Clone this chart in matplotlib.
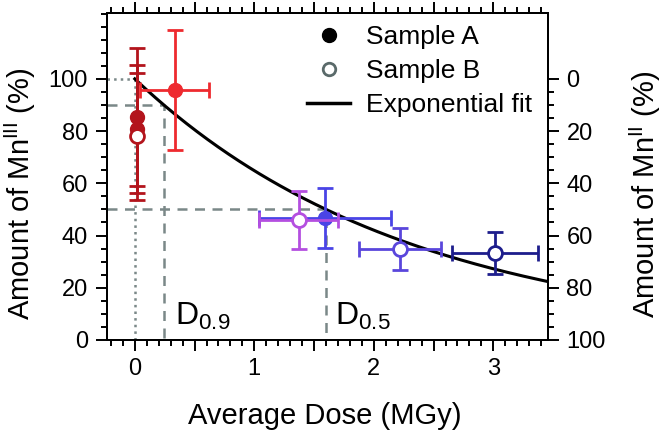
import numpy as np
import matplotlib
matplotlib.use('Agg')
import matplotlib.pyplot as plt
from matplotlib.lines import Line2D
from matplotlib.ticker import MultipleLocator, FuncFormatter

plt.rcParams['font.family'] = ['Liberation Sans', 'DejaVu Sans']
plt.rcParams['mathtext.fontset'] = 'custom'
plt.rcParams['mathtext.rm'] = 'Liberation Sans'
plt.rcParams['mathtext.it'] = 'Liberation Sans:italic'

# sample A (filled symbols)
dose_a = [0.02, 0.02, 0.335, 1.59]
dose_err_a = [0.0, 0.0, 0.29, 0.55]
mn3_a = [85.5, 80.8, 95.9, 46.8]
mn3_err_a = [26.5, 24.5, 23.0, 11.4]
col_a = ['#b3141c', '#b3141c', '#ee2a2f', '#4a44e6']

# sample B (open symbols)
dose_b = [0.02, 1.37, 2.22, 3.01]
dose_err_b = [0.0, 0.33, 0.345, 0.36]
mn3_b = [78.0, 46.0, 34.9, 33.3]
mn3_err_b = [24.3, 11.0, 8.0, 8.0]
col_b = ['#b3141c', '#b44fe0', '#5a46dc', '#1d1d8c']

# exponential fit, D0.5 = 1.6 MGy
d05 = 1.6
k = np.log(2) / d05
d09 = np.log(1 / 0.9) / k

fig = plt.figure(figsize=(6.64, 4.32), dpi=100)
ax = fig.add_axes([0.1616, 0.213, 0.6642, 0.758])
xmin, xmax = -0.23, 3.46
ymax = 125.4
gray = '#7a8888'

# guide lines
ax.plot([xmin, 0], [100, 100], ':', color=gray, lw=1.8, zorder=1)
ax.plot([0, 0], [0, 100], ':', color=gray, lw=1.8, zorder=1)
ax.plot([xmin, d09, d09], [90, 90, 0], '--', color=gray, lw=1.8, dashes=(4, 3), zorder=1)
ax.plot([xmin, d05, d05], [50, 50, 0], '--', color=gray, lw=1.8, dashes=(4, 3), zorder=1)

xf = np.linspace(0, xmax, 200)
ax.plot(xf, 100 * np.exp(-k * xf), color='black', lw=2.2, zorder=2)

for i in range(len(dose_a)):
    ax.errorbar(dose_a[i], mn3_a[i], xerr=dose_err_a[i], yerr=mn3_err_a[i], fmt='o',
                color=col_a[i], mfc=col_a[i], mec=col_a[i], ms=10,
                elinewidth=2, capsize=5.5, capthick=2, zorder=3)
for i in range(len(dose_b)):
    ax.errorbar(dose_b[i], mn3_b[i], xerr=dose_err_b[i], yerr=mn3_err_b[i], fmt='o',
                color=col_b[i], mfc='white', mec=col_b[i], mew=2, ms=10,
                elinewidth=2, capsize=5.5, capthick=2, zorder=4)

ax.text(0.34, 5.7, r'D$_{0.9}$', fontsize=23, zorder=5)
ax.text(1.675, 5.7, r'D$_{0.5}$', fontsize=23, zorder=5)

ax.set_xlim(xmin, xmax)
ax.set_ylim(0, ymax)
ax.xaxis.set_major_locator(MultipleLocator(0.5))
ax.xaxis.set_minor_locator(MultipleLocator(0.1))
ax.xaxis.set_major_formatter(FuncFormatter(lambda v, p: '%d' % v if abs(v - round(v)) < 1e-6 else ''))
ax.yaxis.set_minor_locator(MultipleLocator(5))
ax.set_yticks([0, 20, 40, 60, 80, 100])
ax.tick_params(which='both', direction='out', width=1.4, labelsize=17, top=True)
ax.tick_params(axis='y', pad=6)
ax.tick_params(axis='x', pad=5)
ax.tick_params(which='major', length=8)
ax.tick_params(which='minor', length=4.5)
for s in ax.spines.values():
    s.set_linewidth(1.4)

ax2 = ax.twinx()
ax2.set_ylim(100, 100 - ymax)
ax2.set_yticks([0, 20, 40, 60, 80, 100])
ax2.set_yticks(np.arange(0, 101, 5), minor=True)
ax2.tick_params(which='both', direction='out', width=1.4, labelsize=17, pad=5)
ax2.tick_params(which='major', length=8)
ax2.tick_params(which='minor', length=4.5)
for s in ax2.spines.values():
    s.set_linewidth(1.4)

ax.set_xlabel('Average Dose (MGy)', fontsize=21, va='center')
ax.set_ylabel(r'Amount of Mn$^{\mathrm{III}}$ (%)', fontsize=21, va='center')
ax2.set_ylabel(r'Amount of Mn$^{\mathrm{II}}$ (%)', fontsize=21, va='center')
ax.xaxis.set_label_coords(0.493, -0.232)
ax.yaxis.set_label_coords(-0.198, 0.445)
ax2.yaxis.set_label_coords(1.219, 0.445)

handles = [
    Line2D([], [], marker='o', ls='none', color='black', ms=10),
    Line2D([], [], marker='o', ls='none', mfc='white', mec='#5a6a6a', mew=2, ms=9),
    Line2D([], [], color='black', lw=2.5),
]
ax.legend(handles, ['Sample A', 'Sample B', 'Exponential fit'], loc='upper left',
          bbox_to_anchor=(0.4, 1.035), frameon=False, fontsize=19,
          handlelength=1.6, handletextpad=0.6, labelspacing=0.38)

fig.savefig('out.png', dpi=100)
